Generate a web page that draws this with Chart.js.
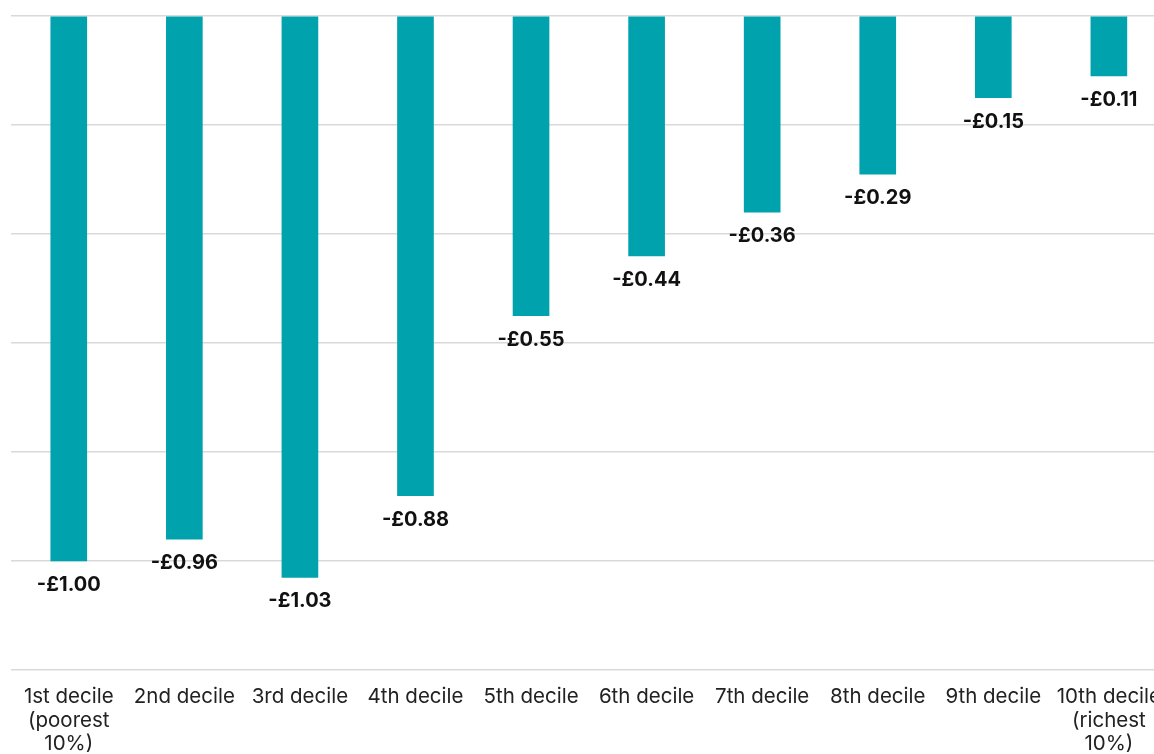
<!DOCTYPE html>
<html>
<head>
<meta charset="utf-8">
<script src="https://cdn.jsdelivr.net/npm/chart.js@4/dist/chart.umd.min.js"></script>
<style>
    html, body { margin: 0; padding: 0; background: #fff; overflow: hidden; }
    #wrap { width: 1168px; height: 754px; position: relative; }
</style>
</head>
<body>
<div id="wrap"><canvas id="decileChart"></canvas></div>
<script>
const deciles = [
    '1st decile|(poorest|10%)', '2nd decile', '3rd decile', '4th decile', '5th decile',
    '6th decile', '7th decile', '8th decile', '9th decile', '10th decile|(richest|10%)'
];
const changeValues = [-1.00, -0.96, -1.03, -0.88, -0.55, -0.44, -0.36, -0.29, -0.15, -0.11];
const yTicks = [0, -0.2, -0.4, -0.6, -0.8, -1.0, -1.2];

const barLabels = {
    id: 'barLabels',
    afterDatasetsDraw(chart) {
        const ctx = chart.ctx;
        const meta = chart.getDatasetMeta(0);
        ctx.save();
        ctx.font = 'bold 20px Inter, "Noto Sans", sans-serif';
        ctx.fillStyle = '#111';
        ctx.textAlign = 'center';
        ctx.textBaseline = 'middle';
        meta.data.forEach(function (bar, i) {
            const v = changeValues[i];
            ctx.fillText('-£' + Math.abs(v).toFixed(2), bar.x, bar.y + 24);
        });
        ctx.restore();
    }
};

new Chart(document.getElementById('decileChart'), {
    type: 'bar',
    data: {
        labels: deciles.map(function (l) { return l.split('|'); }),
        datasets: [{
            data: changeValues,
            backgroundColor: '#00A3AD',
            borderWidth: 0,
            barThickness: 36,
        }],
    },
    options: {
        responsive: true,
        maintainAspectRatio: false,
        animation: false,
        layout: { padding: { left: 11, top: 16, right: 0, bottom: 0 } },
        plugins: { legend: { display: false }, tooltip: { enabled: false } },
        scales: {
            x: {
                grid: { display: false },
                border: { display: false },
                ticks: {
                    color: '#222',
                    font: { family: 'Inter, "Noto Sans", sans-serif', size: 20.5, lineHeight: 1.15 },
                    padding: 7,
                    maxRotation: 0,
                    autoSkip: false,
                },
                afterFit: function (s) { s.height = 84; },
            },
            y: {
                min: Math.min.apply(null, yTicks),
                max: Math.max.apply(null, yTicks),
                border: { display: false },
                grid: { color: '#d9d9d9', lineWidth: 1.5, drawTicks: false },
                ticks: { display: false, stepSize: 0.2 },
                afterFit: function (s) { s.width = 0; },
            },
        },
    },
    plugins: [barLabels],
});
</script>
</body>
</html>
